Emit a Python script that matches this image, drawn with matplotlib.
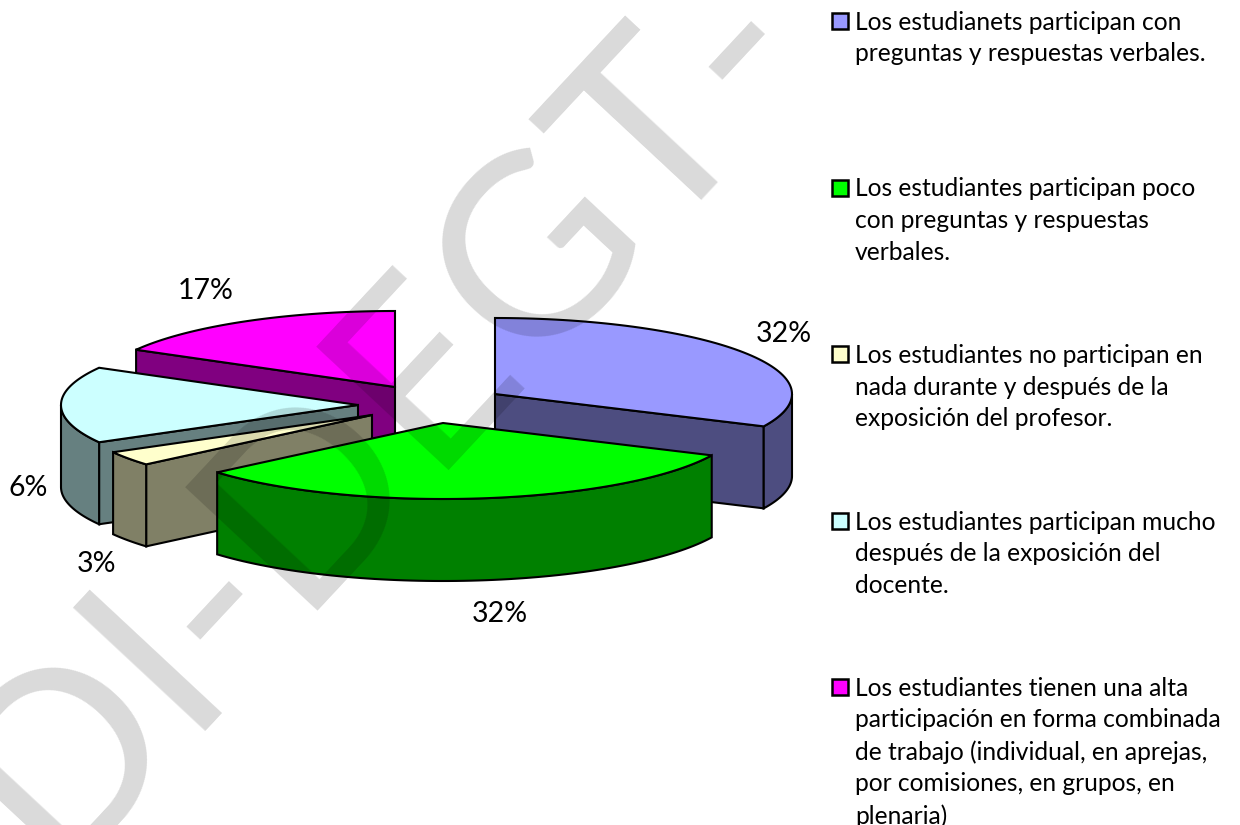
import numpy as np
import matplotlib
matplotlib.use("Agg")
import matplotlib.pyplot as plt
from matplotlib.patches import Polygon, Rectangle

# slice shares in percent, clockwise from 12 o'clock
values = [32, 31.75, 3.1, 16.3, 16.85]
pct_labels = ["32%", "32%", "3%", "6%", "17%"]
legend_labels = [
    "Los estudianets participan con\npreguntas y respuestas verbales.",
    "Los estudiantes participan poco\ncon preguntas y respuestas\nverbales.",
    "Los estudiantes no participan en\nnada durante y después de la\nexposición del profesor.",
    "Los estudiantes participan mucho\ndespués de la exposición del\ndocente.",
    "Los estudiantes tienen una alta\nparticipación en forma combinada\nde trabajo (individual, en aprejas,\npor comisiones, en grupos, en\nplenaria)",
]
watermark = "DI-DEGT-"

top_colors = ["#9999ff", "#00ff00", "#ffffcc", "#ccffff", "#ff00ff"]
wall_colors = ["#4d4d80", "#008000", "#808066", "#668080", "#800080"]

# exploded slice tips, in pixels
tips = [(495, 394), (443, 423), (372, 415), (358, 405), (395, 387)]
label_pos = [(784, 334), (500, 614), (97, 564), (28, 488), (206, 291)]
legend_y = [20.5, 187.5, 354, 520.5, 686.5]
RX, RY, DEPTH = 297, 76, 82
FONT = "Lato"

fig = plt.figure(figsize=(12.4, 8.25), dpi=100)
ax = fig.add_axes([0, 0, 1, 1])
ax.set_xlim(0, 1240)
ax.set_ylim(825, 0)
ax.axis("off")


def rim(tip, a0, a1):
    t = np.radians(np.linspace(a0, a1, 80))
    return np.column_stack([tip[0] + RX * np.sin(t), tip[1] - RY * np.cos(t)])


def face(pts, color):
    ax.add_patch(Polygon(pts, closed=True, facecolor=color, edgecolor="black",
                         linewidth=1.5, joinstyle="miter"))


def radial_wall(tip, a, color):
    edge = rim(tip, a, a)[0]
    face([tip, edge, (edge[0], edge[1] + DEPTH), (tip[0], tip[1] + DEPTH)], color)


def draw_slice(i, a0, a1):
    tip = tips[i]
    if np.sin(np.radians(a0)) < -1e-6:
        radial_wall(tip, a0, wall_colors[i])
    if np.sin(np.radians(a1)) > 1e-6:
        radial_wall(tip, a1, wall_colors[i])
    # only the part of the outer rim that faces the viewer
    lo, hi = max(a0, 90), min(a1, 270)
    if hi > lo:
        arc = rim(tip, lo, hi)
        face(np.vstack([arc, (arc + [0, DEPTH])[::-1]]), wall_colors[i])
    face(np.vstack([[tip], rim(tip, a0, a1)]), top_colors[i])


edges = np.concatenate([[0], np.cumsum(values)]) * 360 / sum(values)
# back slices first, the green one ends up in front
for i in [4, 3, 2, 0, 1]:
    draw_slice(i, edges[i], edges[i + 1])

for (x, y), lab in zip(label_pos, pct_labels):
    ax.text(x, y, lab, fontsize=20.5, family=FONT, ha="center", va="center", color="black")

for y, lab, col in zip(legend_y, legend_labels, top_colors):
    ax.add_patch(Rectangle((832, y - 8), 16, 16, facecolor=col, edgecolor="black", linewidth=1.8))
    ax.text(855, y - 10, lab, fontsize=17.75, family=FONT, ha="left", va="top",
            linespacing=1.455, color="black")

ax.text(52, 871, watermark, fontsize=182, family="Lato", rotation=47,
        rotation_mode="anchor", ha="left", va="baseline", color="black", alpha=0.15,
        zorder=10, clip_on=True)

fig.savefig("out.png", dpi=100, facecolor="white")
